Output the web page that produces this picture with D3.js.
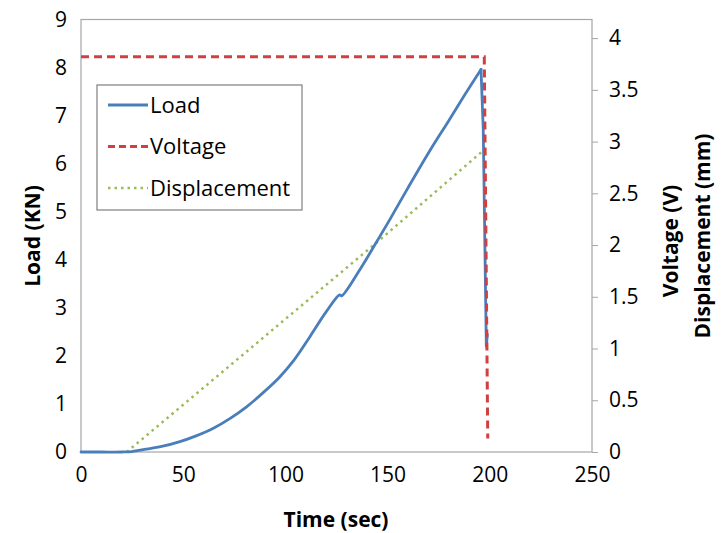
<!DOCTYPE html>
<html>
<head>
<meta charset="utf-8">
<script src="https://cdn.jsdelivr.net/npm/d3@7"></script>
<style>
  body { margin: 0; background: #fff; }
  text { font-family: "Open Sans", sans-serif; fill: #000; }
</style>
</head>
<body>
<script>
// values
const loadTime = [0, 10, 20, 25, 32, 40, 48, 56, 65, 73, 81, 89, 97, 104, 112, 120, 126.5, 127.5, 136.5, 145, 151, 160, 170.8, 180, 188, 195.7, 196.8, 198.3, 198.8];
const loadKN = [0, 0, 0, 0.01, 0.06, 0.12, 0.21, 0.33, 0.5, 0.7, 0.94, 1.23, 1.55, 1.9, 2.4, 2.92, 3.27, 3.25, 3.8, 4.4, 4.83, 5.5, 6.28, 6.9, 7.45, 7.96, 6.7, 2.2, 2.45];

const voltTime = [0, 197.3, 199];
const voltV = [3.82, 3.82, 0.13];

const dispTime = [22.4, 145, 196];
const dispMM = [0, 2.03, 2.9];

const xTicks = [0, 50, 100, 150, 200, 250];
const leftTicks = [0, 1, 2, 3, 4, 5, 6, 7, 8, 9];
const rightTicks = [0, 0.5, 1, 1.5, 2, 2.5, 3, 3.5, 4];

const width = 724, height = 533;
const margin = { top: 19.5, right: 132, bottom: 81, left: 81 };

const svg = d3.select('body').append('svg')
    .attr('width', width)
    .attr('height', height)
    .style('background-color', 'white');

const x = d3.scaleLinear().domain([0, 250]).range([margin.left, width - margin.right]);
const yL = d3.scaleLinear().domain([0, 9]).range([height - margin.bottom, margin.top]);
const yR = d3.scaleLinear().domain([0, 4.18]).range([height - margin.bottom, margin.top]);

// plot frame
svg.append('rect')
    .attr('x', margin.left).attr('y', margin.top)
    .attr('width', width - margin.right - margin.left)
    .attr('height', height - margin.bottom - margin.top)
    .attr('fill', 'none')
    .attr('stroke', '#a6a6a6')
    .attr('stroke-width', 1.2);

const axisFont = g => g.selectAll('text')
    .style('font-size', '21px');

svg.append('g')
    .attr('transform', `translate(${margin.left},0)`)
    .call(d3.axisLeft(yL).tickValues(leftTicks).tickSize(0).tickPadding(14))
    .call(g => g.select('.domain').remove())
    .call(axisFont);

svg.append('g')
    .attr('transform', `translate(0,${height - margin.bottom})`)
    .call(d3.axisBottom(x).tickValues(xTicks).tickSize(0).tickPadding(15))
    .call(g => g.select('.domain').remove())
    .call(axisFont);

svg.append('g')
    .attr('transform', `translate(${width - margin.right},0)`)
    .call(d3.axisRight(yR).tickValues(rightTicks).tickSize(6).tickPadding(11).tickFormat(d3.format('~g')))
    .call(g => g.select('.domain').remove())
    .call(g => g.selectAll('line').attr('stroke', '#a6a6a6'))
    .call(axisFont);

// axis titles
svg.append('text')
    .attr('x', 336).attr('y', 527)
    .attr('text-anchor', 'middle')
    .style('font-size', '21px').style('font-weight', 'bold')
    .text('Time (sec)');

svg.append('text')
    .attr('transform', 'translate(40,236) rotate(-90)')
    .attr('text-anchor', 'middle')
    .style('font-size', '21px').style('font-weight', 'bold')
    .text('Load (KN)');

svg.append('text')
    .attr('transform', 'translate(678,241) rotate(-90)')
    .attr('text-anchor', 'middle')
    .style('font-size', '21px').style('font-weight', 'bold')
    .text('Voltage (V)');

svg.append('text')
    .attr('transform', 'translate(710,236) rotate(-90)')
    .attr('text-anchor', 'middle')
    .style('font-size', '21px').style('font-weight', 'bold')
    .text('Displacement (mm)');

// series
const lineR = d3.line().x(d => x(d[0])).y(d => yR(d[1]));
const loadPts = loadTime.map((t, i) => [t, loadKN[i]]);
const peak = d3.maxIndex(loadKN);

svg.append('path')
    .datum(dispTime.map((t, i) => [t, dispMM[i]]))
    .attr('fill', 'none')
    .attr('stroke', '#9bbb59')
    .attr('stroke-width', 2.5)
    .attr('stroke-dasharray', '2.5,4')
    .attr('d', lineR);

// rising part smoothed, the drop after the peak kept straight
const riseLine = d3.line().x(d => x(d[0])).y(d => yL(d[1])).curve(d3.curveCatmullRom.alpha(0.5));
const dropLine = d3.line().x(d => x(d[0])).y(d => yL(d[1]));
const loadG = svg.append('g')
    .attr('fill', 'none')
    .attr('stroke', '#4a7ebb')
    .attr('stroke-width', 2.8)
    .attr('stroke-linejoin', 'round')
    .attr('stroke-linecap', 'round');
loadG.append('path').attr('d', riseLine(loadPts.slice(0, peak + 1)));
loadG.append('path').attr('d', dropLine(loadPts.slice(peak)));

svg.append('path')
    .datum(voltTime.map((t, i) => [t, voltV[i]]))
    .attr('fill', 'none')
    .attr('stroke', '#d04040')
    .attr('stroke-width', 3)
    .attr('stroke-dasharray', '8,5')
    .attr('d', lineR);

// legend
const legend = svg.append('g');
legend.append('rect')
    .attr('x', 97).attr('y', 85)
    .attr('width', 205).attr('height', 125)
    .attr('fill', 'white')
    .attr('stroke', '#7f7f7f')
    .attr('stroke-width', 1.2);

const legendItems = [
    { name: 'Load', color: '#4a7ebb', dash: null, w: 2.8 },
    { name: 'Voltage', color: '#d04040', dash: '7,4', w: 3 },
    { name: 'Displacement', color: '#9bbb59', dash: '2.5,4', w: 2.5 }
];
legendItems.forEach((d, i) => {
    const yy = 105 + i * 41.5;
    legend.append('line')
        .attr('x1', 108).attr('x2', 148)
        .attr('y1', yy).attr('y2', yy)
        .attr('stroke', d.color)
        .attr('stroke-width', d.w)
        .attr('stroke-dasharray', d.dash);
    legend.append('text')
        .attr('x', 150).attr('y', yy)
        .attr('dy', '0.35em')
        .style('font-size', '22px')
        .text(d.name);
});
</script>
</body>
</html>
